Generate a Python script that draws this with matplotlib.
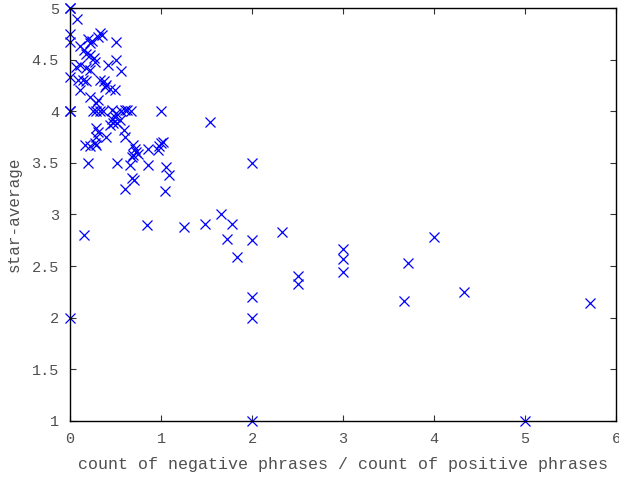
import matplotlib
matplotlib.use("Agg")
import matplotlib.pyplot as plt

# ratio of negative to positive phrase counts vs. star average
neg_pos_ratio = [
    0, 0, 0, 0.08, 0, 0, 0, 0, 0,
    0.11, 0.20, 0.24, 0.22, 0.33, 0.35, 0.31, 0.50,
    0.15, 0.18, 0.22, 0.26, 0.27, 0.50, 0.42, 0.56,
    0.11, 0.07, 0.18, 0.22, 0.09, 0.14, 0.18, 0.11,
    0.33, 0.37, 0.40, 0.38, 0.44, 0.49, 0.22, 0.31, 0.29,
    0.25, 0.29, 0.33, 0.36, 0.46, 0.50, 0.56, 0.60, 0.63, 0.67, 1.00,
    0.46, 0.49, 0.47, 0.44, 0.52, 0.55, 0.59, 0.60,
    0.29, 0.31, 0.29, 0.40, 0.16, 0.22, 0.29, 0.27,
    0.69, 0.71, 0.73, 0.69, 0.75, 0.68,
    0.86, 0.97, 0.98, 1.00, 1.02,
    0.20, 0.52, 0.66, 0.86, 1.06, 1.09, 0.68, 0.70, 0.60, 1.04,
    1.54, 2.00, 0.15, 0.85, 1.25, 1.48, 1.66, 1.78, 1.72, 2.00, 2.33,
    1.84, 2.50, 2.50, 2.00, 2.00, 3.00, 3.00, 3.00, 3.71, 3.67, 4.00,
    4.33, 5.71, 2.00, 5.00,
]
star_average = [
    5.00, 5.00, 4.75, 4.90, 4.67, 4.33, 4.00, 4.00, 2.00,
    4.63, 4.70, 4.68, 4.66, 4.76, 4.74, 4.72, 4.67,
    4.60, 4.56, 4.55, 4.52, 4.48, 4.50, 4.45, 4.39,
    4.45, 4.43, 4.42, 4.40, 4.30, 4.30, 4.29, 4.21,
    4.30, 4.29, 4.26, 4.24, 4.22, 4.21, 4.14, 4.11, 4.08,
    4.00, 4.00, 4.00, 4.00, 4.01, 3.98, 4.00, 4.01, 4.01, 4.00, 4.00,
    3.93, 3.95, 3.89, 3.87, 3.89, 3.92, 3.82, 3.75,
    3.84, 3.80, 3.75, 3.75, 3.67, 3.66, 3.67, 3.69,
    3.67, 3.64, 3.61, 3.58, 3.59, 3.56,
    3.64, 3.63, 3.66, 3.69, 3.70,
    3.50, 3.50, 3.48, 3.48, 3.46, 3.38, 3.35, 3.33, 3.25, 3.23,
    3.90, 3.50, 2.80, 2.90, 2.88, 2.91, 3.00, 2.91, 2.76, 2.75, 2.83,
    2.59, 2.40, 2.33, 2.20, 2.00, 2.67, 2.57, 2.44, 2.53, 2.16, 2.78,
    2.25, 2.14, 1.00, 1.00,
]

x_ticks = [0, 1, 2, 3, 4, 5, 6]
y_ticks = [1, 1.5, 2, 2.5, 3, 3.5, 4, 4.5, 5]
y_tick_labels = ["1", "1.5", "2", "2.5", "3", "3.5", "4", "4.5", "5"]

plt.rcParams["font.family"] = ["Liberation Mono", "DejaVu Sans Mono"]
text_color = "#505050"

fig = plt.figure(figsize=(6.19, 4.79), dpi=100)
ax = fig.add_axes([0.1131, 0.1217, 0.8821, 0.861])

ax.plot(neg_pos_ratio, star_average, linestyle="none", marker="x",
        markersize=7.5, markeredgewidth=0.9, color="#0000ff", clip_on=False)

ax.set_xlim(0, 6)
ax.set_ylim(1, 5)
ax.set_xticks(x_ticks)
ax.set_yticks(y_ticks)
ax.set_yticklabels(y_tick_labels)
ax.tick_params(direction="in", length=4.5, width=0.8, color="#333333",
               top=True, right=True, labelsize=11, labelcolor=text_color,
               pad=8)
for side in ax.spines.values():
    side.set_linewidth(1.0)
    side.set_color("black")

ax.set_xlabel("count of negative phrases / count of positive phrases",
              fontsize=12, color=text_color, labelpad=8)
ax.set_ylabel("star-average", fontsize=11.5, color=text_color, labelpad=7)

fig.savefig("out.png", dpi=100)
